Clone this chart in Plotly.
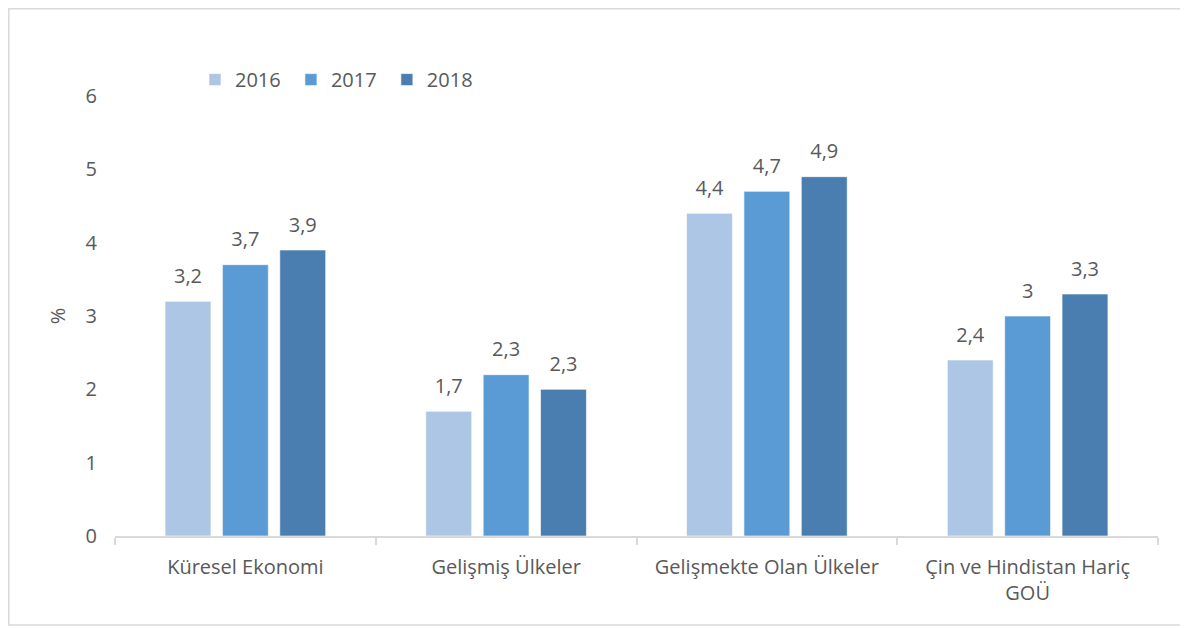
import plotly.graph_objects as go

categories = ["Küresel Ekonomi", "Gelişmiş Ülkeler", "Gelişmekte Olan Ülkeler", "Çin ve Hindistan Hariç<br>GOÜ"]
years = ["2016", "2017", "2018"]
values_2016 = [3.2, 1.7, 4.4, 2.4]
values_2017 = [3.7, 2.2, 4.7, 3.0]
values_2018 = [3.9, 2.0, 4.9, 3.3]
labels_2016 = ["3,2", "1,7", "4,4", "2,4"]
labels_2017 = ["3,7", "2,3", "4,7", "3"]
labels_2018 = ["3,9", "2,3", "4,9", "3,3"]
y_ticks = [0, 1, 2, 3, 4, 5, 6]

colors = ["#ADC6E5", "#5B9BD5", "#4A7EB0"]
FONT = "Open Sans"
TXT = "#595959"
FS = 20

series = list(zip(years, [values_2016, values_2017, values_2018],
                  [labels_2016, labels_2017, labels_2018], colors))

fig = go.Figure()
for name, vals, labs, col in series:
    fig.add_trace(go.Bar(
        x=categories, y=vals, name=name + "\u00a0", offsetgroup=name,
        marker=dict(color=col, line=dict(color="rgba(255,255,255,0.6)", width=1)),
        hoverinfo="skip",
    ))
for name, vals, labs, col in series:
    fig.add_trace(go.Scatter(
        x=categories, y=vals, text=labs, mode="markers+text", offsetgroup=name,
        textposition="top center", showlegend=False, cliponaxis=False,
        marker=dict(size=20, opacity=0, color=col),
        textfont=dict(family=FONT, size=FS, color=TXT), hoverinfo="skip",
    ))

# page has an 8px body margin: figure drawn 8px right/down
W, H = 1180, 620
L, R, T, B = 107, 30, 88, 92
pw, ph = W - L - R, H - T - B

def px_to_paper(x, y):
    return (x - L) / pw, (H - B - y) / ph

x0, y0 = px_to_paper(0.8, 617)
x1, y1 = px_to_paper(1178, 0.8)

fig.update_layout(
    width=W, height=H,
    margin=dict(l=L, r=R, t=T, b=B, pad=0),
    paper_bgcolor="white", plot_bgcolor="white",
    barmode="group", bargap=0.34, bargroupgap=0.2,
    scattermode="group", scattergap=0.34,
    font=dict(family=FONT, size=FS, color=TXT),
    showlegend=True,
    legend=dict(orientation="h", x=0.0767, y=0.993, xanchor="left", yanchor="bottom",
                font=dict(family=FONT, size=FS, color=TXT), itemwidth=30,
                traceorder="normal"),
    xaxis=dict(showline=True, linecolor="#D9D9D9", linewidth=1.5,
               ticks="outside", tickson="boundaries", ticklen=7, tickcolor="#D9D9D9",
               tickwidth=1.5, ticklabelstandoff=12,
               tickfont=dict(family=FONT, size=FS, color=TXT), showgrid=False),
    yaxis=dict(range=[0, 6], tickvals=y_ticks, ticktext=[str(v) for v in y_ticks],
               showgrid=False, showline=False, zeroline=False, ticks="",
               ticklabelstandoff=17,
               tickfont=dict(family=FONT, size=FS, color=TXT),
               title=dict(text="%", font=dict(family=FONT, size=FS, color=TXT), standoff=14)),
    shapes=[dict(type="rect", xref="paper", yref="paper", x0=x0, y0=y0, x1=x1, y1=y1,
                 line=dict(color="#D9D9D9", width=1.5), fillcolor="rgba(0,0,0,0)", layer="below")],
)

fig.write_html("out.html")
